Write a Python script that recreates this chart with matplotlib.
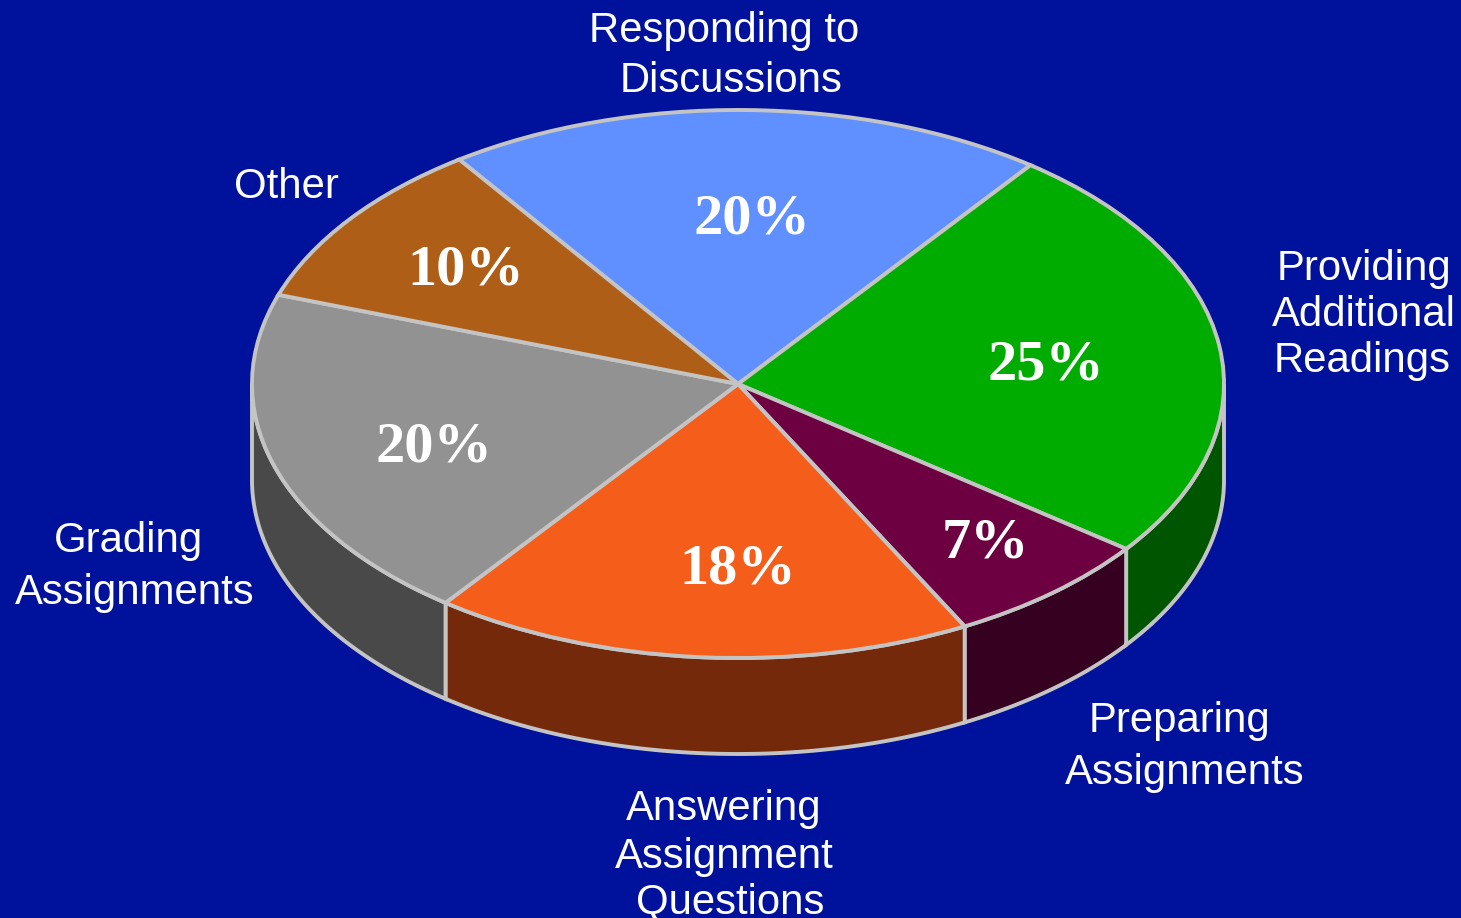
import numpy as np
from matplotlib import pyplot as plt

labels = ["Responding to\nDiscussions", "Providing\nAdditional\nReadings", "Preparing\nAssignments",
          "Answering\nAssignment\nQuestions", "Grading\nAssignments", "Other"]
values = [20, 25, 7, 18, 20, 10]
pct_labels = ["20%", "25%", "7%", "18%", "20%", "10%"]
top_colors = ["#6090FF", "#00AC00", "#6C0040", "#F45D1A", "#929292", "#AE5E17"]
side_colors = ["#30487F", "#005600", "#360020", "#75290B", "#494949", "#572F0B"]

bg = "#00129B"
edge = "#C4C4C4"
W, H = 1461, 918
cx, cy, rx, ry = 738, 384, 486, 274
depth = 96 / ry
start = 125

fig = plt.figure(figsize=(W / 100, H / 100), dpi=100, facecolor=bg)
ax = fig.add_axes([0, 0, 1, 1])

wedges, _ = ax.pie(values, colors=top_colors, startangle=start, counterclock=False,
                   wedgeprops=dict(edgecolor=edge, linewidth=2.8, zorder=3))
ax.set_aspect("auto")
ax.set_xlim(-cx / rx, (W - cx) / rx)
ax.set_ylim((cy - H) / ry, cy / ry)
ax.set_axis_off()

# side wall, only the front half of the ellipse shows (-180..0 deg)
ends = start - np.cumsum(values) * 3.6
begins = np.r_[start, ends[:-1]]
for a0, a1, col in zip(begins, ends, side_colors):
    if a1 >= 0 or a0 <= -180:
        continue
    th = np.radians(np.linspace(min(a0, 0), max(a1, -180), 80))
    x = np.cos(th)
    y = np.sin(th)
    ax.fill(np.r_[x, x[::-1]], np.r_[y, y[::-1] - depth], facecolor=col, edgecolor=edge,
            linewidth=2.8, zorder=2)

# percentages
pct_pos = [(752, 220), (1046, 366), (985, 543), (738, 569), (434, 447), (466, 270)]
for (px, py), s in zip(pct_pos, pct_labels):
    fig.text(px / W, 1 - py / H, s, color="white", fontsize=42, fontweight="bold",
             family="Liberation Serif", ha="center", va="center", zorder=5)

# outer labels, one position per line because the spacing differs
label_pos = [
    [(724, 31), (731, 81)],
    [(1364, 269), (1364, 315), (1362, 361)],
    [(1179, 721), (1185, 773)],
    [(724, 809), (724, 857), (730, 902)],
    [(129, 541), (135, 593)],
    [(286, 187)],
]
for lab, pos in zip(labels, label_pos):
    for line, (px, py) in zip(lab.split("\n"), pos):
        fig.text(px / W, 1 - py / H, line, color="white", fontsize=30.2,
                 family="Liberation Sans", ha="center", va="center", zorder=5)

fig.savefig("out.png", dpi=100, facecolor=bg)
